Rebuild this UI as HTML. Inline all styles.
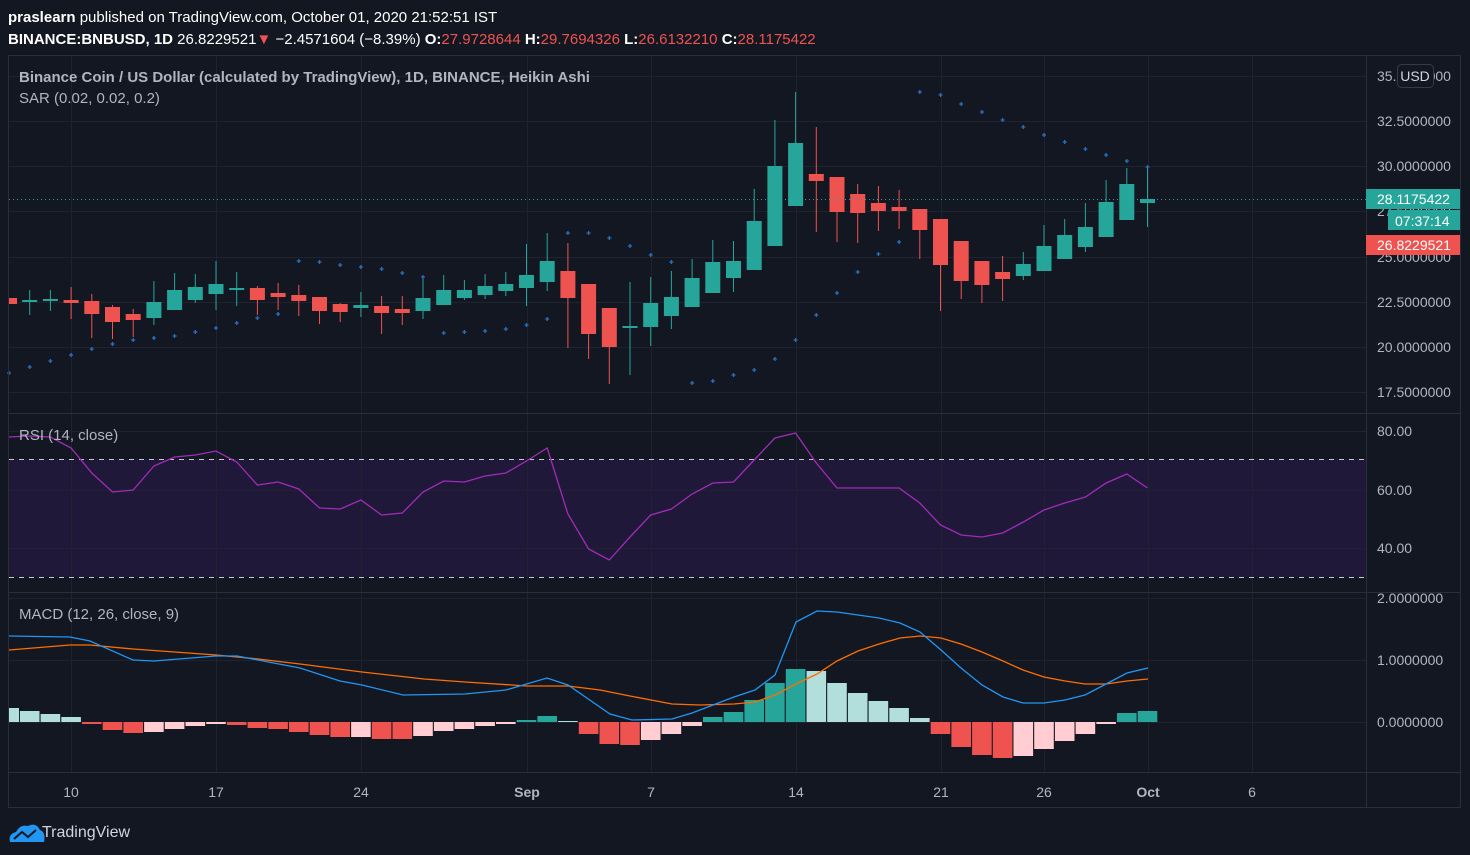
<!DOCTYPE html>
<html><head><meta charset="utf-8"><style>
html,body{margin:0;padding:0;background:#131722;width:1470px;height:855px;overflow:hidden}
svg{display:block}
text{font-family:"Liberation Sans",sans-serif}
</style></head><body>
<svg id="s" width="1470" height="855" xmlns="http://www.w3.org/2000/svg">
<rect width="1470" height="855" fill="#131722"/>
<text x="8" y="22" font-size="15" fill="#fff"><tspan font-weight="bold">praslearn</tspan> published on TradingView.com, October 01, 2020 21:52:51 IST</text>
<text x="8" y="44" font-size="15" fill="#fff"><tspan font-weight="bold">BINANCE:BNBUSD, 1D</tspan> 26.8229521<tspan fill="#ef5350">▼</tspan> −2.4571604 (−8.39%) <tspan font-weight="bold">O:</tspan><tspan fill="#ef5350">27.9728644</tspan> <tspan font-weight="bold">H:</tspan><tspan fill="#ef5350">29.7694326</tspan> <tspan font-weight="bold">L:</tspan><tspan fill="#ef5350">26.6132210</tspan> <tspan font-weight="bold">C:</tspan><tspan fill="#ef5350">28.1175422</tspan></text>
<rect x="9" y="459" width="1357" height="118" fill="#201838"/>
<g id="grid" stroke="#1f2330" stroke-width="1"></g>
<line x1="9" y1="459.5" x2="1366" y2="459.5" stroke="#c9c9d0" stroke-dasharray="5,5"/>
<line x1="9" y1="577.5" x2="1366" y2="577.5" stroke="#c9c9d0" stroke-dasharray="5,5"/>
<g id="plots"></g>
<line x1="9" y1="199.5" x2="1366" y2="199.5" stroke="#26a69a" stroke-dasharray="1,3"/>
<g stroke="#2a2e39" fill="none">
<rect x="8.5" y="55.5" width="1452" height="752"/>
<line x1="1366.5" y1="55" x2="1366.5" y2="808"/>
<line x1="8" y1="413.5" x2="1461" y2="413.5"/>
<line x1="8" y1="592.5" x2="1461" y2="592.5"/>
<line x1="8" y1="772.5" x2="1461" y2="772.5"/>
</g>
<g font-size="14" fill="#b2b5be">
<text x="1377" y="81">35.0000000</text>
<text x="1377" y="126">32.5000000</text>
<text x="1377" y="171">30.0000000</text>
<text x="1377" y="216">27.5000000</text>
<text x="1377" y="262">25.0000000</text>
<text x="1377" y="307">22.5000000</text>
<text x="1377" y="352">20.0000000</text>
<text x="1377" y="397">17.5000000</text>
<text x="1377" y="436">80.00</text>
<text x="1377" y="495">60.00</text>
<text x="1377" y="553">40.00</text>
<text x="1377" y="603">2.0000000</text>
<text x="1377" y="665">1.0000000</text>
<text x="1377" y="727">0.0000000</text>
<g text-anchor="middle">
<text x="71" y="797">10</text><text x="216" y="797">17</text><text x="361" y="797">24</text>
<text x="527" y="797" font-weight="bold">Sep</text><text x="651" y="797">7</text><text x="796" y="797">14</text>
<text x="941" y="797">21</text><text x="1044" y="797">26</text><text x="1148" y="797" font-weight="bold">Oct</text><text x="1252" y="797">6</text>
</g>
</g>
<rect x="1397.5" y="64.5" width="36" height="23" rx="4" fill="#131722" stroke="#363a45"/>
<text x="1415" y="81" font-size="14" fill="#d1d4dc" text-anchor="middle">USD</text>
<rect x="1366" y="189" width="94" height="20" fill="#26a69a"/>
<text x="1377" y="204" font-size="14" fill="#fff">28.1175422</text>
<rect x="1388" y="210" width="72" height="20" fill="#26a69a"/>
<text x="1395" y="226" font-size="14" fill="#fff">07:37:14</text>
<rect x="1366" y="235" width="94" height="20" fill="#ef5350"/>
<text x="1377" y="250" font-size="14" fill="#fff">26.8229521</text>
<g font-size="15" fill="#b2b5be">
<text x="19" y="82" font-weight="bold">Binance Coin / US Dollar (calculated by TradingView), 1D, BINANCE, Heikin Ashi</text>
<text x="19" y="103">SAR (0.02, 0.02, 0.2)</text>
<text x="19" y="440">RSI (14, close)</text>
<text x="19" y="619">MACD (12, 26, close, 9)</text>
</g>
<g transform="translate(8,822)">
<path d="M2 20 Q0 12 8 10 Q12 2 20 4 Q28 0 32 8 Q38 10 36 20 Z" fill="#2196f3"/>
<polyline points="6,17 14,10 20,15 28,8" fill="none" stroke="#131722" stroke-width="2"/>
</g>
<text x="42" y="837" font-size="16" fill="#d1d4dc">TradingView</text>
</svg>
<script>
const NS="http://www.w3.org/2000/svg";
function el(p,t,a){const e=document.createElementNS(NS,t);for(const k in a)e.setAttribute(k,a[k]);p.appendChild(e);return e;}
const G=document.getElementById('grid'),P=document.getElementById('plots');
[71,216,361,527,651,796,941,1044,1148,1252].forEach(x=>el(G,'line',{x1:x+.5,y1:56,x2:x+.5,y2:772}));
[76,121,166,211,257,302,347,392,431,490,548,598,660,722].forEach(y=>el(G,'line',{x1:9,y1:y+.5,x2:1366,y2:y+.5}));
const X=i=>9+i*20.7;
const C=[["r",298,304,298,304],["g",300,301,290,315],["g",299,301,290,311],["r",300,303,287,319],["r",301,314,294,338],["r",307,322,305,339],["r",314,320,309,337],["g",302,318,281,325],["g",290,310,273,310],["g",287,300,274,303],["g",284,294,261,310],["g",288,289,272,306],["r",288,300,286,315],["r",293,297,283,310],["r",295,301,285,316],["r",297,311,297,324],["r",304,312,303,322],["g",305,308,292,317],["r",306,313,296,334],["r",309,313,296,325],["g",298,311,276,319],["g",290,305,275,305],["g",290,298,280,300],["g",286,295,274,299],["g",284,291,272,296],["g",275,288,244,306],["g",261,282,233,291],["r",271,298,243,348],["r",284,334,284,359],["r",308,347,308,384],["g",326,328,282,375],["g",303,327,277,346],["g",297,316,271,329],["g",278,307,259,307],["g",262,293,240,293],["g",261,278,241,292],["g",221,270,189,270],["g",166,246,120,246],["g",143,206,92,206],["r",174,181,127,232],["r",177,212,177,242],["r",194,213,184,243],["r",203,211,186,231],["r",207,211,190,229],["r",209,230,209,259],["r",219,265,219,311],["r",241,281,241,299],["r",261,285,261,303],["r",272,279,256,301],["g",264,276,252,280],["g",246,271,225,271],["g",235,259,219,259],["g",227,247,203,252],["g",202,237,180,237],["g",184,220,168,220],["g",199,203,168,227]];
C.forEach((c,i)=>{const x=X(i),col=c[0]=="g"?"#26a69a":"#ef5350";
el(P,'line',{x1:x,y1:c[3],x2:x,y2:c[4],stroke:col,'stroke-width':1});
const w=i==0?8:15,l=i==0?9:x-7.5;
el(P,'rect',{x:l,y:c[1],width:w,height:Math.max(2,c[2]-c[1]),fill:col});});
const S=[373,367,361,355,349,344,340,338,336,332,328,323,318,314,261,262,265,267,269,273,277,333,332,331,329,325,319,233,233,238,246,255,262,383,381,375,370,359,340,315,293,272,254,242,92,95,104,112,120,127,135,142,149,155,161,167];
S.forEach((y,i)=>{const x=X(i);el(P,'path',{d:`M${x-2} ${y}H${x+2}M${x} ${y-2}V${y+2}`,stroke:"#2a70c0",'stroke-width':1.3});});
const R=[437,436,437,448,473,492,490,466,457,455,451,462,485,482,489,508,509,500,515,513,492,481,482,476,473,461,448,514,549,560,537,515,509,494,483,482,460,438,433,463,488,488,488,488,503,525,535,537,533,522,510,503,497,483,474,488];
el(P,'polyline',{points:R.map((y,i)=>X(i)+","+y).join(" "),fill:"none",stroke:"#a02cb8",'stroke-width':1.3});
const H=[[14,"l"],[11,"l"],[8,"l"],[5,"l"],[-2,"r"],[-8,"r"],[-11,"r"],[-10,"p"],[-7,"p"],[-4,"p"],[-2,"p"],[-3,"r"],[-6,"r"],[-7,"r"],[-10,"r"],[-13,"r"],[-15,"r"],[-15,"p"],[-17,"r"],[-17,"r"],[-14,"p"],[-9,"p"],[-7,"p"],[-4,"p"],[-2,"p"],[2,"g"],[6,"g"],[1,"l"],[-12,"r"],[-22,"r"],[-23,"r"],[-18,"p"],[-12,"p"],[-4,"p"],[5,"g"],[10,"g"],[22,"g"],[39,"g"],[53,"g"],[51,"l"],[39,"l"],[29,"l"],[21,"l"],[14,"l"],[4,"l"],[-12,"r"],[-25,"r"],[-33,"r"],[-36,"r"],[-34,"p"],[-27,"p"],[-19,"p"],[-12,"p"],[-2,"p"],[9,"g"],[11,"g"]];
const HC={l:"#b2dfdb",g:"#26a69a",r:"#ef5350",p:"#ffcdd2"};
H.forEach((h,i)=>{const x=X(i);const v=h[0];const l=i==0?9:x-9.8,w=i==0?10:19.6;
el(P,'rect',{x:l,y:v>0?722-v:722,width:w,height:Math.abs(v),fill:HC[h[1]]});});
const M=[[9,636],[70,637],[90,641],[133,660],[154,661],[216,656],[237,656],[300,668],[340,681],[362,685],[403,695],[465,694],[506,690],[547,678],[568,685],[610,714],[632,720],[672,719],[692,713],[713,705],[734,697],[755,690],[775,675],[796,622],[817,611],[837,612],[858,615],[879,618],[900,623],[920,632],[941,650],[961,668],[982,685],[1003,697],[1023,703],[1044,703],[1065,700],[1085,695],[1106,684],[1127,673],[1148,668]];
const SG=[[9,650],[70,645],[90,645],[133,649],[216,655],[258,659],[300,664],[362,672],[424,679],[465,682],[527,686],[568,686],[600,690],[630,696],[672,704],[700,705],[734,704],[755,702],[775,695],[796,684],[817,674],[837,661],[858,651],[879,644],[900,638],[920,636],[941,638],[961,644],[982,652],[1003,661],[1023,670],[1044,677],[1065,681],[1085,684],[1106,684],[1127,681],[1148,679]];
el(P,'polyline',{points:SG.join(" "),fill:"none",stroke:"#ff6d00",'stroke-width':1.3});
el(P,'polyline',{points:M.join(" "),fill:"none",stroke:"#2196f3",'stroke-width':1.3});
</script>
</body></html>
